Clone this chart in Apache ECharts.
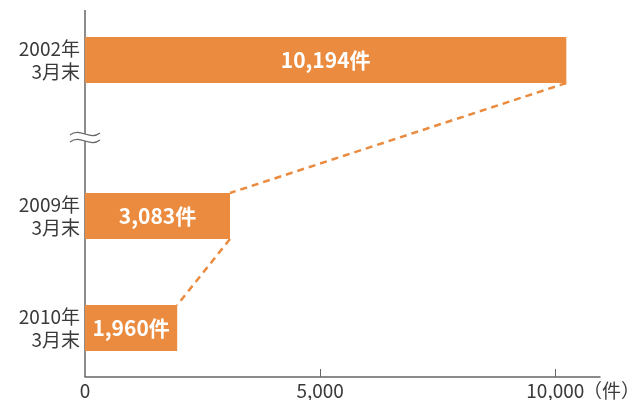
<!DOCTYPE html>
<html>
<head>
<meta charset="utf-8">
<script src="https://cdn.jsdelivr.net/npm/echarts@6/dist/echarts.min.js"></script>
<style>
  html, body { margin: 0; padding: 0; background: #fff; }
  #main { width: 643px; height: 400px; }
</style>
</head>
<body>
<div id="main"></div>
<script>
// data
var topCats = ['2002年\n3月末'];
var topVals = [10194];
var botCats = ['2009年\n3月末', '2010年\n3月末'];
var botVals = [3083, 1960];
var xTicks = [0, 5000, 10000];
var xUnit = '（件）';
var xMax = 10950;

var orange = '#EA8B3F';
var axisGray = '#666666';
var textGray = '#3a3a3a';
var font = '"Noto Sans CJK JP", "Noto Sans", sans-serif';
var barW = 46;

// layout (two grids = broken y axis)
var L = 85, R = 41;
var topGrid = { left: L, right: R, top: 10, height: 100 };
var botGrid = { left: L, right: R, top: 160, height: 224 };
var axisOffset = -7;
var axisY = botGrid.top + botGrid.height + axisOffset;

function fmt(v) { return Number(v).toLocaleString('en-US'); }

var chart = echarts.init(document.getElementById('main'));

var yLabel = {
  color: textGray, fontSize: 19, lineHeight: 23, fontFamily: font,
  align: 'right', margin: 5
};
var barLabel = {
  show: true, position: 'inside', color: '#fff', fontWeight: 'bold',
  fontSize: 21, fontFamily: font,
  formatter: function (p) { return fmt(p.value) + '件'; }
};

var option = {
  animation: false,
  grid: [topGrid, botGrid],
  xAxis: [
    { gridIndex: 0, type: 'value', min: 0, max: xMax, show: false },
    {
      gridIndex: 1, type: 'value', min: 0, max: xMax, interval: 5000,
      offset: axisOffset,
      axisLine: { show: true, lineStyle: { color: axisGray, width: 1.5 } },
      axisTick: { show: true, inside: true, length: 8, customValues: [5000, 10000],
                  lineStyle: { color: axisGray, width: 1 } },
      axisLabel: { customValues: xTicks, formatter: fmt, color: textGray,
                   fontSize: 19, fontFamily: font, margin: 4 },
      splitLine: { show: false },
      name: xUnit, nameLocation: 'end', nameGap: -17, nameMoveOverlap: false,
      nameTextStyle: { color: textGray, fontSize: 19, fontFamily: font,
                       align: 'left', verticalAlign: 'top', padding: [4, 0, 0, 0] }
    }
  ],
  yAxis: [
    { gridIndex: 0, type: 'category', data: topCats, inverse: true,
      axisLine: { show: false }, axisTick: { show: false }, axisLabel: yLabel },
    { gridIndex: 1, type: 'category', data: botCats, inverse: true,
      axisLine: { show: false }, axisTick: { show: false }, axisLabel: yLabel }
  ],
  series: [
    { type: 'bar', xAxisIndex: 0, yAxisIndex: 0, data: topVals, barWidth: barW,
      itemStyle: { color: orange }, label: barLabel },
    { type: 'bar', xAxisIndex: 1, yAxisIndex: 1, data: botVals, barWidth: barW,
      itemStyle: { color: orange }, label: barLabel }
  ]
};
chart.setOption(option);

// connectors between bar ends, from the axes' own scales
var p0 = chart.convertToPixel({ xAxisIndex: 0, yAxisIndex: 0 }, [topVals[0], 0]);
var p1 = chart.convertToPixel({ xAxisIndex: 1, yAxisIndex: 1 }, [botVals[0], 0]);
var p2 = chart.convertToPixel({ xAxisIndex: 1, yAxisIndex: 1 }, [botVals[1], 1]);
var h = barW / 2;
var dash = { stroke: orange, lineWidth: 2.5, lineDash: [7, 5] };

var brk1 = 134, brk2 = 141;
function wave(y) {
  return { type: 'bezierCurve', z: 10,
    shape: { x1: L - 15, y1: y + 1, cpx1: L - 5, cpy1: y - 7, cpx2: L + 5, cpy2: y + 7, x2: L + 15, y2: y - 1 },
    style: { stroke: axisGray, lineWidth: 1.2, fill: null } };
}

chart.setOption({
  graphic: [
    { type: 'line', shape: { x1: p0[0], y1: p0[1] + h, x2: p1[0], y2: p1[1] - h }, style: dash },
    { type: 'line', shape: { x1: p1[0], y1: p1[1] + h, x2: p2[0], y2: p2[1] - h }, style: dash },
    { type: 'line', shape: { x1: L, y1: topGrid.top, x2: L, y2: brk1 },
      style: { stroke: axisGray, lineWidth: 1.5 } },
    { type: 'line', shape: { x1: L, y1: brk2, x2: L, y2: axisY },
      style: { stroke: axisGray, lineWidth: 1.5 } },
    wave(brk1), wave(brk2)
  ]
});
</script>
</body>
</html>
